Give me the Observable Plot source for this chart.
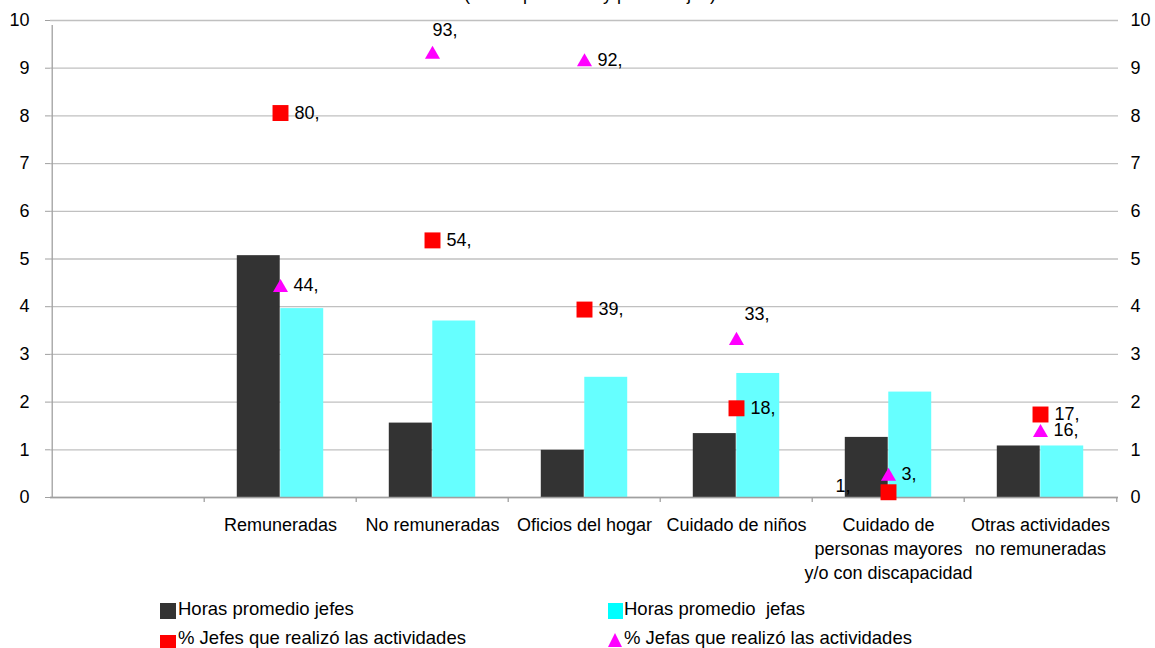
<!DOCTYPE html>
<html>
<head>
<meta charset="utf-8">
<script src="https://cdn.jsdelivr.net/npm/d3@7"></script>
<script src="https://cdn.jsdelivr.net/npm/@observablehq/plot@0.6"></script>
<style>
  html, body { margin: 0; padding: 0; background: #fff; overflow: hidden; }
  body { width: 1155px; height: 648px; position: relative; font-family: "Liberation Sans", Arial, sans-serif; color: #000; }
  #title { position: absolute; top: -15px; left: 0; width: 1180px; text-align: center; font-size: 18px; line-height: 18px; white-space: pre; z-index: 2; }
  #chart { position: absolute; top: 0; left: 0; z-index: 1; }
  .leg { position: absolute; font-size: 18.5px; white-space: pre; line-height: 1; }
  .sw { position: absolute; }
</style>
</head>
<body>
<div id="title">(Horas promedio y porcentajes)</div>
<div id="chart"></div>
<div id="legend"></div>
<script>
// ---- data ----
const categories = ["", "Remuneradas", "No remuneradas", "Oficios del hogar", "Cuidado de niños", "Cuidado de personas mayores y/o con discapacidad", "Otras actividades no remuneradas"];
const tickLabels = ["", "Remuneradas", "No remuneradas", "Oficios del hogar", "Cuidado de niños", "Cuidado de\npersonas mayores\ny/o con discapacidad", "Otras actividades\nno remuneradas"];
const horasJefes = [5.07, 1.56, 0.99, 1.34, 1.26, 1.08];
const horasJefas = [3.96, 3.70, 2.52, 2.60, 2.21, 1.08];
const pctJefes = [80.6, 53.9, 39.4, 18.7, 1.1, 17.4];
const pctJefas = [44.0, 92.9, 91.3, 32.9, 4.4, 13.6];
const labelsJefes = ["80,", "54,", "39,", "18,", "1,", "17,"];
const labelsJefas = ["44,", "93,", "92,", "33,", "3,", "16,"];
const posJefes = ["right", "right", "right", "right", "left", "right"];
const posJefas = ["right", "above", "right", "aboveRight", "right", "right"];
const yTicks = [0, 1, 2, 3, 4, 5, 6, 7, 8, 9, 10];
const seriesNames = ["Horas promedio jefes", "Horas promedio  jefas", "% Jefes que realizó las actividades", "% Jefas que realizó las actividades"];

// ---- build table ----
const dataCats = categories.slice(1);
const rows = dataCats.map((c, i) => ({
  cat: c,
  hJefes: horasJefes[i], hJefas: horasJefas[i],
  pJefes: pctJefes[i] / 10, pJefas: pctJefas[i] / 10,
  lJefes: labelsJefes[i], lJefas: labelsJefas[i],
  posJefes: posJefes[i], posJefas: posJefas[i]
}));
const labelMap = new Map(categories.map((c, i) => [c, tickLabels[i]]));

const W = 1155, H = 590, mL = 50, mR = 37, mT = 20, mB = 93;
const step = (W - mL - mR) / categories.length;
const barW = 43.5;
const half = step / 2;
const outer = half - barW;

const cDark = "#333333", cCyan = "#66ffff", cRed = "#ff0000", cMag = "#ff00ff";
const gridC = "#c0c0c0", axisC = "#a0a0a0";
const font = 18;

const chart = Plot.plot({
  width: W, height: H,
  marginLeft: mL, marginRight: mR, marginTop: mT, marginBottom: mB,
  style: { fontFamily: '"Liberation Sans", Arial, sans-serif', fontSize: "18px", color: "#000", background: "transparent" },
  x: { domain: categories, padding: 0, axis: null },
  y: { domain: [0, 10], axis: null },
  marks: [
    Plot.gridY(yTicks, { stroke: gridC, strokeOpacity: 1, strokeWidth: 1.3 }),
    Plot.barY(rows, { x: "cat", y: "hJefes", fill: cDark, insetLeft: outer, insetRight: half }),
    Plot.barY(rows, { x: "cat", y: "hJefas", fill: cCyan, insetLeft: half, insetRight: outer }),
    Plot.ruleY([0], { stroke: axisC, strokeWidth: 1.3 }),
    // left axis line
    Plot.ruleX([categories[0]], { x: d => d, y1: 0, y2: 10, dx: -half, insetBottom: -5, stroke: axisC, strokeWidth: 1.3 }),
    // category boundary ticks
    Plot.ruleX(categories.slice(1), { x: d => d, y1: 0, y2: 0, dx: -half, insetBottom: -5, stroke: axisC, strokeWidth: 1.3 }),
    Plot.ruleX([categories[categories.length - 1]], { x: d => d, y1: 0, y2: 0, dx: half, insetBottom: -5, stroke: axisC, strokeWidth: 1.3 }),
    // axes
    Plot.axisY(yTicks, { anchor: "left", tickSize: 5, tickPadding: 16, stroke: axisC, fontSize: font, fill: "#000", label: null }),
    Plot.axisY(yTicks, { anchor: "right", tickSize: 0, tickPadding: 12, fontSize: font, fill: "#000", label: null }),
    // x labels
    Plot.text(dataCats, { x: d => d, y: 0, text: d => labelMap.get(d), dy: 17, lineAnchor: "top", lineHeight: 1.33, fontSize: font, fill: "#000" }),
    // markers
    Plot.dot(rows, { x: "cat", y: "pJefes", symbol: "square", r: 9, fill: cRed, stroke: "none" }),
    Plot.dot(rows, { x: "cat", y: "pJefas", symbol: "triangle", r: 5.6, fill: cMag, stroke: "none" }),
    // labels jefes
    Plot.text(rows.filter(d => d.posJefes === "right"), { x: "cat", y: "pJefes", text: "lJefes", textAnchor: "start", dx: 14, fontSize: font, fill: "#000" }),
    Plot.text(rows.filter(d => d.posJefes === "left"), { x: "cat", y: "pJefes", text: "lJefes", textAnchor: "end", dx: -38, dy: -6, fontSize: font, fill: "#000" }),
    // labels jefas
    Plot.text(rows.filter(d => d.posJefas === "right"), { x: "cat", y: "pJefas", text: "lJefas", textAnchor: "start", dx: 13, dy: -2, fontSize: font, fill: "#000" }),
    Plot.text(rows.filter(d => d.posJefas === "above"), { x: "cat", y: "pJefas", text: "lJefas", textAnchor: "start", dx: 0, dy: -24, fontSize: font, fill: "#000" }),
    Plot.text(rows.filter(d => d.posJefas === "aboveRight"), { x: "cat", y: "pJefas", text: "lJefas", textAnchor: "start", dx: 8, dy: -26, fontSize: font, fill: "#000" })
  ]
});
document.getElementById("chart").appendChild(chart);

// ---- legend ----
const legend = document.getElementById("legend");
const items = [
  { name: seriesNames[0], kind: "rect", color: cDark, x: 160, y: 603, w: 16, h: 16, tx: 178, ty: 600 },
  { name: seriesNames[1], kind: "rect", color: "#00ffff", x: 608, y: 603, w: 15, h: 16, tx: 624, ty: 600 },
  { name: seriesNames[2], kind: "rect", color: cRed, x: 160, y: 635, w: 16, h: 16, tx: 178, ty: 629 },
  { name: seriesNames[3], kind: "tri", color: cMag, x: 608, y: 633, w: 14, h: 14, tx: 624, ty: 629 }
];
items.forEach(it => {
  const sw = document.createElement("div");
  sw.className = "sw";
  sw.style.left = it.x + "px"; sw.style.top = it.y + "px";
  if (it.kind === "rect") {
    sw.style.width = it.w + "px"; sw.style.height = it.h + "px"; sw.style.background = it.color;
  } else {
    sw.style.width = "0"; sw.style.height = "0";
    sw.style.borderLeft = (it.w / 2) + "px solid transparent";
    sw.style.borderRight = (it.w / 2) + "px solid transparent";
    sw.style.borderBottom = it.h + "px solid " + it.color;
  }
  legend.appendChild(sw);
  const t = document.createElement("div");
  t.className = "leg";
  t.style.left = it.tx + "px"; t.style.top = it.ty + "px";
  t.textContent = it.name;
  legend.appendChild(t);
});
</script>
</body>
</html>
